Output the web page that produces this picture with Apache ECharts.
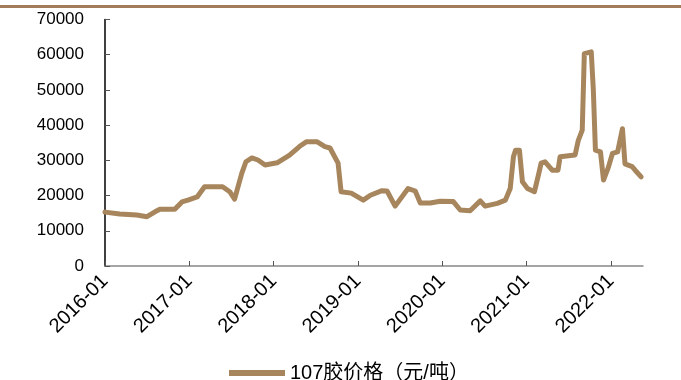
<!DOCTYPE html>
<html><head><meta charset="utf-8">
<script src="https://cdn.jsdelivr.net/npm/echarts@6/dist/echarts.min.js"></script>
<style>html,body{margin:0;padding:0;background:#fff}#c{width:681px;height:380px}</style>
</head><body><div id="c"></div>
<script>
const dates = ['2016-01-01','2016-03-05','2016-05-18','2016-07-01','2016-08-05','2016-08-26','2016-10-30','2016-11-30','2016-12-26',
'2017-02-04','2017-02-25','2017-03-08','2017-05-25','2017-06-25','2017-07-16','2017-08-16','2017-09-03','2017-09-29','2017-10-25','2017-11-25',
'2018-01-16','2018-03-11','2018-04-24','2018-05-24','2018-07-07','2018-08-11','2018-09-02','2018-10-07','2018-10-20','2018-12-03',
'2019-01-24','2019-02-24','2019-04-15','2019-05-07','2019-06-11','2019-08-06','2019-09-06','2019-09-28','2019-11-10','2019-12-23',
'2020-02-18','2020-03-19','2020-05-01','2020-06-14','2020-07-05','2020-08-27','2020-10-01','2020-10-22','2020-11-05','2020-11-14','2020-12-01','2020-12-14',
'2021-01-05','2021-02-04','2021-02-22','2021-03-05','2021-03-22','2021-04-22','2021-05-17','2021-05-26','2021-07-30','2021-08-13','2021-08-30','2021-09-08','2021-10-08','2021-10-17','2021-10-26','2021-11-17','2021-11-30','2021-12-21',
'2022-01-08','2022-01-30','2022-02-20','2022-03-03','2022-04-03','2022-04-16','2022-05-12'];
const prices = [15300,14750,14500,14000,15400,16100,16100,18200,18700,
19600,21500,22500,22500,21100,19000,26300,29600,30700,30100,28700,
29300,31500,34000,35300,35300,33900,33500,29200,21100,20700,
18700,20100,21400,21300,17000,22000,21300,17900,17900,18400,
18300,15900,15700,18500,17000,17800,18700,22000,31000,32900,32900,23900,
22000,21100,26000,29200,29600,27200,27200,31000,31500,35700,38600,60300,60800,50000,32900,32400,24400,28000,
32000,32400,39000,29000,28200,27200,25300];
const xTickYears = [2016,2017,2018,2019,2020,2021,2022];
const xTickLabels = ['2016-01','2017-01','2018-01','2019-01','2020-01','2021-01','2022-01'];
const axisEndDate = '2022-05-20';
const seriesName = '107胶价格（元/吨）';

function toYear(s){
  const [y,m,d] = s.split('-').map(Number);
  const start = Date.UTC(y,0,1), end = Date.UTC(y+1,0,1);
  return y + (Date.UTC(y,m-1,d)-start)/(end-start);
}
const data = dates.map((d,i)=>[toYear(d), prices[i]]);
const labelMap = {}; xTickYears.forEach((y,i)=>labelMap[y]=xTickLabels[i]);
const col = '#A8865D';
const chart = echarts.init(document.getElementById('c'));
chart.setOption({
  animation:false,
  backgroundColor:'#fff',
  textStyle:{fontFamily:'Liberation Sans, Arial, sans-serif'},
  graphic:[{type:'rect',left:0,top:5,shape:{x:0,y:0,width:681,height:3},style:{fill:'#A27C5A'}}],
  grid:{left:105,right:38,top:19.5,bottom:114,containLabel:false},
  xAxis:{type:'value',min:2016,max:toYear(axisEndDate),
    axisLine:{lineStyle:{color:'#888',width:1.5}},
    axisTick:{inside:true,length:5,lineStyle:{color:'#555'},customValues:xTickYears},
    axisLabel:{customValues:xTickYears,formatter:v=>labelMap[Math.round(v)]||'',rotate:45,fontSize:20,color:'#000',margin:12},
    splitLine:{show:false}},
  yAxis:{type:'value',min:0,max:70000,interval:10000,
    axisLine:{show:true,lineStyle:{color:'#000',width:1.5}},
    axisTick:{show:true,inside:true,length:5,lineStyle:{color:'#555'}},
    axisLabel:{fontSize:17,color:'#000',margin:21,formatter:v=>String(v)},
    splitLine:{show:false}},
  legend:{top:358,left:224,itemWidth:56,itemHeight:6,itemGap:6,
    textStyle:{fontSize:20,color:'#000',fontFamily:'Liberation Sans, Noto Sans CJK SC, sans-serif'},
    data:[{name:seriesName,icon:'rect'}]},
  series:[{name:seriesName,type:'line',data:data,showSymbol:false,smooth:false,
    lineStyle:{color:col,width:5,join:'round',cap:'round'},itemStyle:{color:col}}]
});
</script></body></html>
